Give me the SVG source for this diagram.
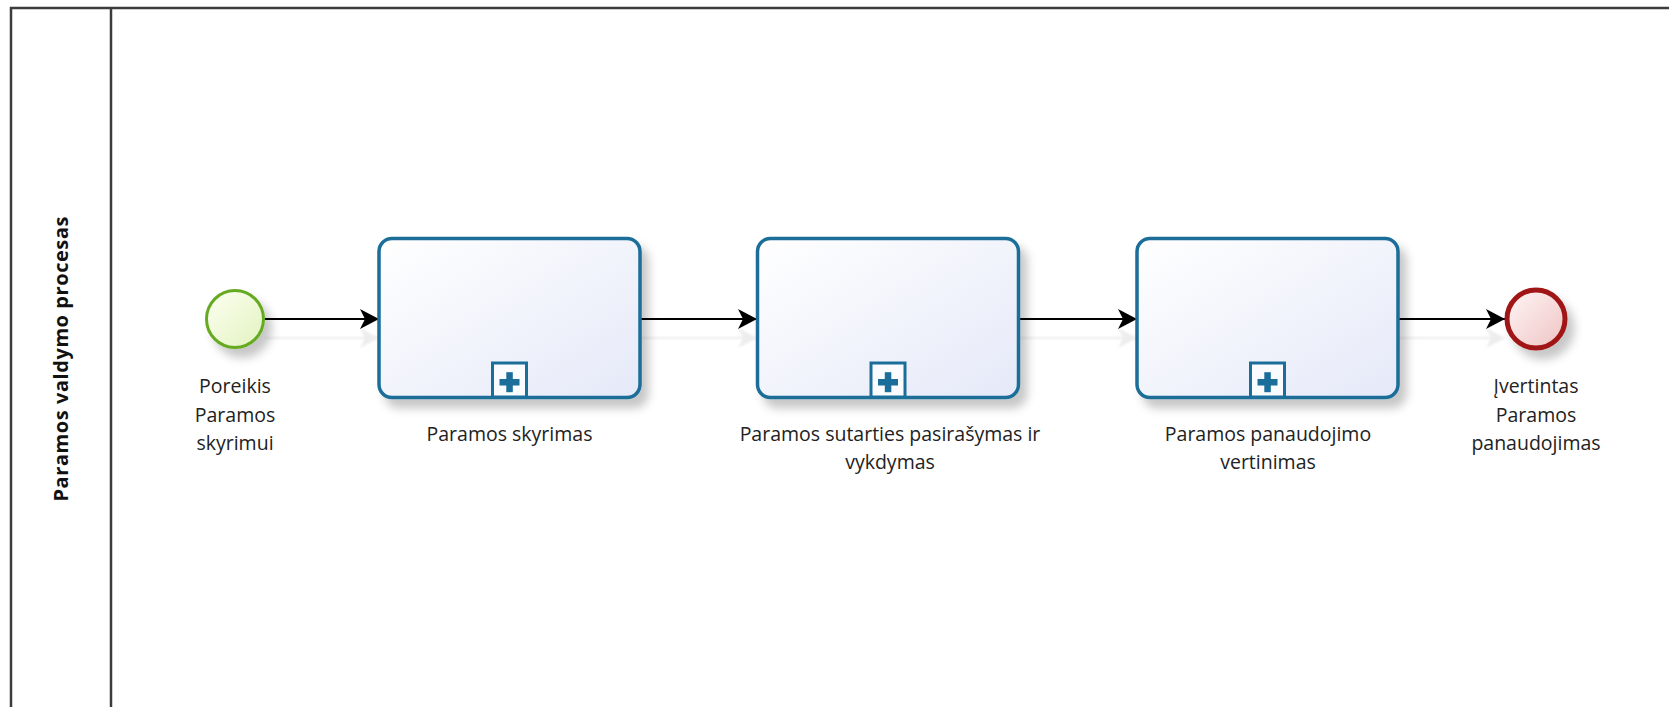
<svg xmlns="http://www.w3.org/2000/svg" width="1669" height="707" viewBox="0 0 1669 707">
<style>
.lbl{font-family:"Open Sans","Liberation Sans",sans-serif;font-size:19.5px;fill:#222;text-anchor:middle}
.pool-lbl{font-family:"Open Sans","Liberation Sans",sans-serif;font-size:20px;font-weight:bold;fill:#111;text-anchor:middle}
.task{fill:url(#taskGrad);stroke:#1a6e99;stroke-width:3.5}
.mk{fill:#fafbff;stroke:#1a6e99;stroke-width:3}
.cross{fill:#1a6e99}
.flow{fill:none;stroke:#000;stroke-width:2;marker-end:url(#arrow)}
.pool{fill:none;stroke:#3c3c3c;stroke-width:2.5}
</style>
<defs>
<linearGradient id="taskGrad" x1="0" y1="0" x2="1" y2="1">
<stop offset="0" stop-color="#ffffff"/>
<stop offset="1" stop-color="#e5e9f8"/>
</linearGradient>
<linearGradient id="startGrad" x1="0" y1="0" x2="1" y2="1">
<stop offset="0" stop-color="#fdfff2"/>
<stop offset="1" stop-color="#e2f3bf"/>
</linearGradient>
<linearGradient id="endGrad" x1="0" y1="0" x2="1" y2="1">
<stop offset="0" stop-color="#fff6f6"/>
<stop offset="1" stop-color="#efc3c3"/>
</linearGradient>
<filter id="shadow" x="-20%" y="-20%" width="150%" height="160%">
<feDropShadow dx="7" dy="9" stdDeviation="5" flood-color="#000" flood-opacity="0.22"/>
</filter>
<filter id="lineShadow" filterUnits="userSpaceOnUse" x="0" y="0" width="1669" height="707">
<feDropShadow dx="0" dy="19" stdDeviation="0.8" flood-color="#000" flood-opacity="0.07"/>
</filter>
<marker id="arrow" markerWidth="20" markerHeight="22" refX="19" refY="10" orient="auto" markerUnits="userSpaceOnUse">
<path d="M0,0 L19,10 L0,20 L5,10 Z" fill="#000"/>
</marker>
</defs>

<g id="pool">
<rect class="pool" x="11" y="8" width="1700" height="720"/>
<line class="pool" x1="111" y1="8" x2="111" y2="720"/>
<text class="pool-lbl" transform="translate(68,359) rotate(-90)" textLength="285" lengthAdjust="spacing">Paramos valdymo procesas</text>
</g>

<g id="connectors" filter="url(#lineShadow)">
<line class="flow" x1="265" y1="319" x2="379" y2="319"/>
<line class="flow" x1="640" y1="319" x2="757" y2="319"/>
<line class="flow" x1="1018" y1="319" x2="1137" y2="319"/>
<line class="flow" x1="1398" y1="319" x2="1505" y2="319"/>
</g>

<g id="start">
<circle cx="235" cy="319" r="28.5" fill="url(#startGrad)" stroke="#66aa22" stroke-width="3" filter="url(#shadow)"/>
<text class="lbl" x="235" y="393">Poreikis</text>
<text class="lbl" x="235" y="421.5">Paramos</text>
<text class="lbl" x="235" y="450">skyrimui</text>
</g>

<g id="task1">
<rect class="task" x="379" y="238.5" width="261" height="159" rx="13" filter="url(#shadow)"/>
<rect class="mk" x="492.5" y="363" width="34" height="34"/>
<rect class="cross" x="499.5" y="379" width="20" height="6.5"/>
<rect class="cross" x="506.3" y="372.2" width="6.5" height="20"/>
<text class="lbl" x="509.5" y="441">Paramos skyrimas</text>
</g>

<g id="task2">
<rect class="task" x="757.5" y="238.5" width="261" height="159" rx="13" filter="url(#shadow)"/>
<rect class="mk" x="871" y="363" width="34" height="34"/>
<rect class="cross" x="878" y="379" width="20" height="6.5"/>
<rect class="cross" x="884.8" y="372.2" width="6.5" height="20"/>
<text class="lbl" x="890" y="441">Paramos sutarties pasirašymas ir</text>
<text class="lbl" x="890" y="469">vykdymas</text>
</g>

<g id="task3">
<rect class="task" x="1137" y="238.5" width="261" height="159" rx="13" filter="url(#shadow)"/>
<rect class="mk" x="1250.5" y="363" width="34" height="34"/>
<rect class="cross" x="1257.5" y="379" width="20" height="6.5"/>
<rect class="cross" x="1264.3" y="372.2" width="6.5" height="20"/>
<text class="lbl" x="1268" y="441">Paramos panaudojimo</text>
<text class="lbl" x="1268" y="469">vertinimas</text>
</g>

<g id="end">
<circle cx="1536" cy="319" r="29" fill="url(#endGrad)" stroke="#a01717" stroke-width="5" filter="url(#shadow)"/>
<text class="lbl" x="1536" y="393">Įvertintas</text>
<text class="lbl" x="1536" y="421.5">Paramos</text>
<text class="lbl" x="1536" y="450">panaudojimas</text>
</g>
</svg>
